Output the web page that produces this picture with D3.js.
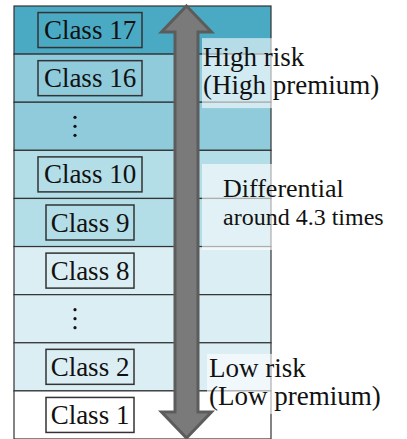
<!DOCTYPE html>
<html><head><meta charset="utf-8">
<script src="https://cdn.jsdelivr.net/npm/d3@7"></script>
<style>html,body{margin:0;padding:0;background:#fff;}svg{display:block;}
text{font-family:"Liberation Serif","Tinos","Nimbus Roman","DejaVu Serif","Times New Roman",Times,serif;}</style>
</head><body>
<script>
// Rows from top (highest risk class) to bottom
const rows = ["Class 17", "Class 16", "⋮", "Class 10", "Class 9", "Class 8", "⋮", "Class 2", "Class 1"];
const tiers = [0, 1, 1, 2, 2, 3, 3, 3, 4];
const tierColors = ["#4aaac4", "#8fcbdb", "#b3dde7", "#dbeef4", "#ffffff"];
const noteLines = [["High risk", "(High premium)"], ["Differential", "around 4.3 times"], ["Low risk", "(Low premium)"]];
const noteRows = [1, 3.72, 7.46];

const W = 407, H = 439;
const svg = d3.select("body").append("svg").attr("width", W).attr("height", H);

const x0 = 14, x1 = 271, yTop = 6, yBottom = 439;
const y = d3.scaleBand().domain(d3.range(rows.length)).range([yTop, yBottom]).padding(0);
const bw = y.bandwidth();

// rows
svg.append("g").selectAll("rect").data(rows).join("rect")
  .attr("x", x0).attr("y", (d, i) => y(i)).attr("width", x1 - x0).attr("height", bw)
  .attr("fill", (d, i) => tierColors[tiers[i]])
  .attr("stroke", "#333").attr("stroke-width", 1.2);

const cx = 90;
// labels
const lab = svg.append("g").selectAll("g").data(rows).join("g")
  .attr("transform", (d, i) => `translate(${cx},${y(i) + bw / 2})`);
lab.filter(d => d !== "⋮").append("rect")
  .attr("x", d => d.length > 7 ? -52 : -44).attr("width", d => d.length > 7 ? 104 : 88)
  .attr("y", -17.5).attr("height", 35)
  .attr("fill", "none").attr("stroke", "#333").attr("stroke-width", 1.5);
lab.filter(d => d !== "⋮").append("text")
  .attr("text-anchor", "middle").attr("y", 9)
  .attr("font-size", 27)
  .attr("fill", "#111").text(d => d);
lab.filter(d => d === "⋮").selectAll("circle").data([-9, 0, 9]).join("circle")
  .attr("cx", -15).attr("cy", d => d).attr("r", 1.6).attr("fill", "#111");

// annotation boxes & text (layout per note)
const layout = [
  {bx: 0, by: -16, bh: 70, tx: 1, sizes: [27, 27]},
  {bx: 0, by: -21, bh: 86, tx: 21, sizes: [26, 24]},
  {bx: 5, by: -11, bh: 60, tx: 7, sizes: [27, 27]}
];
const ax = 202;
const ng = svg.append("g").selectAll("g").data(noteLines).join("g")
  .attr("transform", (d, i) => `translate(${ax},${y(0) + noteRows[i] * bw})`);
ng.append("rect").attr("x", (d, i) => layout[i].bx).attr("y", (d, i) => layout[i].by)
  .attr("width", 200).attr("height", (d, i) => layout[i].bh)
  .attr("fill", "#fff").attr("fill-opacity", 0.6);

ng.each(function (d, i) {
  const g = d3.select(this);
  d.forEach((t, k) => {
    g.append("text").attr("x", layout[i].tx).attr("y", 12 + k * 28)
      .attr("font-size", layout[i].sizes[k]).attr("fill", "#111").text(t);
  });
});

// double arrow
const ac = 186.5, sw = 11.5, hw = 25, hh = 26;
const aTop = yTop, aBot = 438;
const pts = [
  [ac, aTop], [ac + hw, aTop + hh], [ac + sw, aTop + hh], [ac + sw, aBot - hh], [ac + hw, aBot - hh],
  [ac, aBot], [ac - hw, aBot - hh], [ac - sw, aBot - hh], [ac - sw, aTop + hh], [ac - hw, aTop + hh]
];
svg.append("path").attr("d", d3.line()(pts) + "Z")
  .attr("fill", "#7a7a7a").attr("stroke", "#5c5c5c").attr("stroke-width", 3).attr("stroke-linejoin", "miter");
</script>
</body></html>
